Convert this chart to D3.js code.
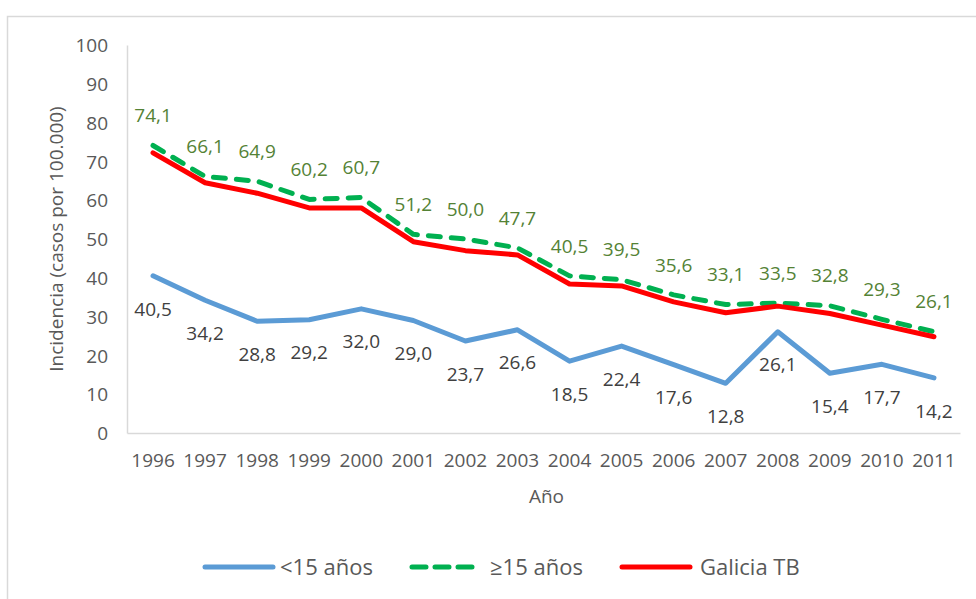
<!doctype html>
<html lang="es">
<head>
  <meta charset="utf-8">
  <title>Incidencia TB Galicia</title>
  <script src="https://d3js.org/d3.v7.min.js"></script>
  <style>
    body { margin: 0; background: #fff; }
    text { font-family: "Open Sans", "Noto Sans", sans-serif; }
  </style>
</head>
<body>
  <div id='my_chart'></div>
<script>
  const width = 976;
  const height = 599;
  const margin = {top: 45, right: 16, bottom: 166, left: 127};
  const inner_w = width - margin.left - margin.right;
  const inner_h = height - margin.top - margin.bottom;

  // data
  const years = ['1996', '1997', '1998', '1999', '2000', '2001', '2002', '2003',
                 '2004', '2005', '2006', '2007', '2008', '2009', '2010', '2011'];
  const menores_15 = [40.5, 34.2, 28.8, 29.2, 32.0, 29.0, 23.7, 26.6,
                      18.5, 22.4, 17.6, 12.8, 26.1, 15.4, 17.7, 14.2];
  const mayores_15 = [74.1, 66.1, 64.9, 60.2, 60.7, 51.2, 50.0, 47.7,
                      40.5, 39.5, 35.6, 33.1, 33.5, 32.8, 29.3, 26.1];
  const galicia_tb = [72.2, 64.5, 61.8, 58.0, 58.0, 49.3, 47.0, 45.9,
                      38.4, 37.9, 33.8, 31.0, 32.7, 30.8, 27.8, 24.8];
  const y_ticks = [0, 10, 20, 30, 40, 50, 60, 70, 80, 90, 100];
  const series_names = ['<15 años', '≥15 años', 'Galicia TB'];

  const series = [
    {name: series_names[0], values: menores_15, color: '#5b9bd5', dash: null, label: '#404040', dy: 33},
    {name: series_names[1], values: mayores_15, color: '#00b050', dash: '12,11', label: '#548235', dy: -30},
    {name: series_names[2], values: galicia_tb, color: '#ff0000', dash: null, label: null, dy: 0}
  ];

  const x = d3.scaleBand().domain(years).range([0, inner_w]);
  const y = d3.scaleLinear().domain([0, 100]).range([inner_h, 0]);
  const fmt = (v) => d3.format('.1f')(v).replace('.', ',');

  const svg = d3.select('#my_chart').append('svg')
    .attr('width', width)
    .attr('height', height);

  // chart frame
  svg.append('rect')
    .attr('x', 7.5).attr('y', 16.5)
    .attr('width', width + 10).attr('height', height + 10)
    .attr('fill', 'none')
    .attr('stroke', '#d9d9d9')
    .attr('stroke-width', 1.5);

  const g = svg.append('g')
    .attr('transform', 'translate(' + margin.left + ',' + margin.top + ')');

  // axes
  const y_axis = g.append('g')
    .call(d3.axisLeft(y).tickValues(y_ticks).tickSize(0).tickPadding(19));
  const x_axis = g.append('g')
    .attr('transform', 'translate(0,' + inner_h + ')')
    .call(d3.axisBottom(x).tickSize(0).tickPadding(21));
  [y_axis, x_axis].forEach((a) => {
    a.select('.domain').attr('stroke', '#d9d9d9').attr('stroke-width', 1.5);
    a.selectAll('text')
      .attr('fill', '#595959')
      .style('font-size', '19px')
      .style('font-family', '"Open Sans", sans-serif');
  });
  y_axis.selectAll('text').attr('dy', '0.35em');

  // axis titles
  g.append('text')
    .attr('x', inner_w / 2 + 3)
    .attr('y', inner_h + 70)
    .attr('text-anchor', 'middle')
    .attr('fill', '#595959')
    .style('font-size', '19px')
    .text('Año');
  g.append('text')
    .attr('transform', 'translate(' + (56 - margin.left) + ',' + (239 - margin.top) + ') rotate(-90)')
    .attr('text-anchor', 'middle')
    .attr('dy', '0.35em')
    .attr('fill', '#595959')
    .style('font-size', '19px')
    .text('Incidencia (casos por 100.000)');

  // lines
  const line = d3.line()
    .x((d, i) => x(years[i]) + x.bandwidth() / 2)
    .y((d) => y(d));

  series.forEach((s) => {
    g.append('path')
      .datum(s.values)
      .attr('fill', 'none')
      .attr('stroke', s.color)
      .attr('stroke-width', 5)
      .attr('stroke-linejoin', 'round')
      .attr('stroke-linecap', 'round')
      .attr('stroke-dasharray', s.dash)
      .attr('d', line);
  });

  // data labels
  series.filter((s) => s.label).forEach((s) => {
    g.append('g').selectAll('text')
      .data(s.values)
      .enter()
        .append('text')
          .attr('x', (d, i) => x(years[i]) + x.bandwidth() / 2)
          .attr('y', (d) => y(d) + s.dy)
          .attr('dy', '0.35em')
          .attr('text-anchor', 'middle')
          .attr('fill', s.label)
          .style('font-size', '19px')
          .text(fmt);
  });

  // legend
  const legend_x = [205, 412, 622];
  const legend = svg.append('g')
    .selectAll('g')
    .data(series)
    .enter()
      .append('g')
        .attr('transform', (d, i) => 'translate(' + legend_x[i] + ',567)');
  legend.append('line')
    .attr('x1', 0).attr('x2', 68)
    .attr('stroke', (d) => d.color)
    .attr('stroke-width', 5)
    .attr('stroke-linecap', 'round')
    .attr('stroke-dasharray', (d) => d.dash ? '14,9' : null);
  legend.append('text')
    .attr('x', (d, i) => i == 0 ? 75 : 78)
    .attr('dy', '0.35em')
    .attr('fill', '#595959')
    .style('font-size', '22px')
    .text((d) => d.name);
</script>
</body>
</html>
